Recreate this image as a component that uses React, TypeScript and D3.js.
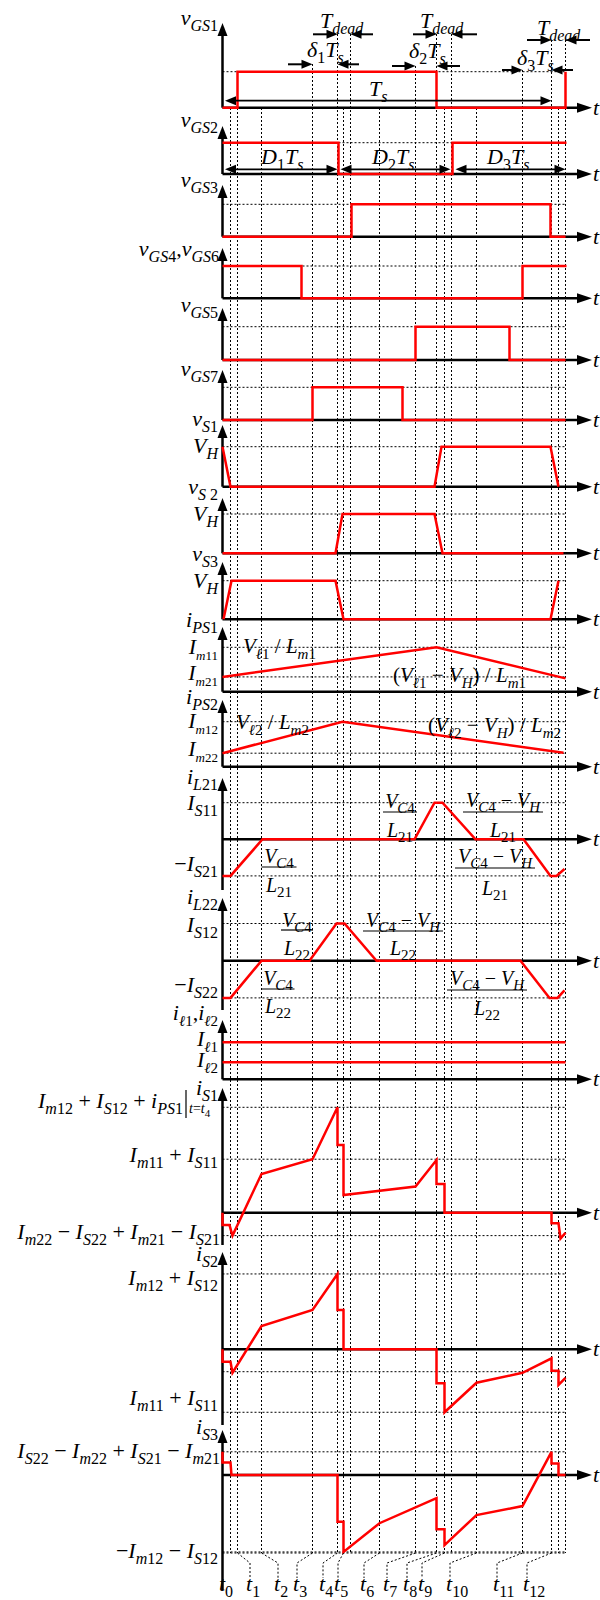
import React from 'react';
import * as d3 from 'd3';

// grid instants (time units along the switching period)
const gridTimes = [8, 15, 39, 90, 115, 121, 128, 157, 193, 214, 222, 229, 254, 300, 329, 336, 343];
const timeLabels = ['t_{1}', 't_{2}', 't_{3}', 't_{4}', 't_{5}', 't_{6}', 't_{7}', 't_{8}', 't_{9}', 't_{10}', 't_{11}', 't_{12}'];
const labelGrid = [15, 39, 90, 115, 121, 157, 193, 214, 222, 254, 300, 329];
const labelAt = [250, 278, 297, 323, 338, 364, 387, 407, 422, 450, 497, 527];

// gate signals (0 = low, 1 = high)
const vGS1 = [[0, 0], [15, 0], [15, 1], [214, 1], [214, 0], [343, 0], [343, 1]];
const vGS2 = [[0, 1], [116, 1], [116, 0], [230, 0], [230, 1], [344, 1]];
const vGS3 = [[0, 0], [129, 0], [129, 1], [328, 1], [328, 0], [343, 0]];
const vGS46 = [[0, 1], [79, 1], [79, 0], [300, 0], [300, 1], [344, 1]];
const vGS5 = [[0, 0], [193, 0], [193, 1], [287, 1], [287, 0], [343, 0]];
const vGS7 = [[0, 0], [90, 0], [90, 1], [180, 1], [180, 0], [343, 0]];

// switch voltages (1 = V_H)
const vS1 = [[0, 1], [8, 0], [212, 0], [219, 1], [328, 1], [336, 0]];
const vS2 = [[0, 0], [113, 0], [120, 1], [212, 1], [220, 0], [341, 0]];
const vS3 = [[1, 0], [9, 1], [113, 1], [121, 0], [328, 0], [336, 1]];

// currents (arbitrary units)
const iPS1 = [[0, 1], [214, 3], [343, 0.9]];
const iPS2 = [[0, 0.9], [120, 3], [341, 0.93]];
const iL21 = [[0, -1], [8, -1], [40, 0], [192, 0], [212, 1], [220, 1], [253, 0], [301, 0], [328, -1], [334, -1], [342, -0.81]];
const iL22 = [[0, -1], [8, -1], [39, 0], [87, 0], [114, 1], [122, 1], [154, 0], [298, 0], [327, -1], [335, -1], [342, -0.8]];
const il1 = [[0, 1], [343, 1]];
const il2 = [[0, 0.46], [343, 0.46]];
const iS1 = [[0, 0], [0, -0.47], [7, -0.47], [10, -0.87], [39, 1.47], [90, 2.03], [115, 4], [115, 2.57], [121, 2.57], [121, 0.67],
  [193, 0.99], [214, 2.0], [214, 1.09], [222, 1.09], [222, 0], [329, 0], [329, -0.4], [336, -0.4], [338, -0.98], [343, -0.76]];
const iS2 = [[0, 0], [0, -0.47], [8, -0.47], [10, -0.89], [39, 0.88], [90, 1.49], [115, 2.86], [115, 1.49], [121, 1.49], [121, 0],
  [214, 0], [214, -1.29], [222, -1.29], [222, -2.39], [254, -1.27], [300, -0.89], [329, -0.34], [329, -0.81], [336, -0.81],
  [336, -1.35], [343, -1.08]];
const iS3 = [[0, 0.88], [0, 0.47], [8, 0.47], [9, 0], [115, 0], [115, -1.77], [121, -1.77], [121, -2.92], [157, -1.83],
  [214, -0.88], [214, -2.06], [222, -2.06], [222, -2.66], [254, -1.52], [300, -1.18], [329, 0.88], [329, 0.44], [336, 0.44],
  [336, 0], [343, 0]];

const FONT = '"Liberation Serif", "DejaVu Serif", "Times New Roman", serif';
const RED = '#ff0000';
const MAIN = 22;
const SUB = 16;

const xs = d3.scaleLinear().domain([0, 343]).range([222.5, 565.5]);

// panel layout: baseline y, px per unit, axis extent, reference levels
const panels = [
  { id: 'vGS1', base: 107.7, unit: 36, top: 23, bottom: 107.7, waves: [vGS1], refs: [1] },
  { id: 'vGS2', base: 174, unit: 31.3, top: 126, bottom: 174, waves: [vGS2], refs: [1] },
  { id: 'vGS3', base: 236.7, unit: 32.4, top: 185, bottom: 236.7, waves: [vGS3], refs: [1] },
  { id: 'vGS46', base: 298.3, unit: 32.3, top: 248, bottom: 298.3, waves: [vGS46], refs: [1] },
  { id: 'vGS5', base: 360, unit: 33.3, top: 308, bottom: 360, waves: [vGS5], refs: [1] },
  { id: 'vGS7', base: 420, unit: 32.7, top: 370, bottom: 420, waves: [vGS7], refs: [1] },
  { id: 'vS1', base: 486.7, unit: 40, top: 425, bottom: 486.7, waves: [vS1], refs: [1] },
  { id: 'vS2', base: 553.3, unit: 39.3, top: 498, bottom: 553.3, waves: [vS2], refs: [1] },
  { id: 'vS3', base: 619.3, unit: 38.6, top: 562, bottom: 619.3, waves: [vS3], refs: [1] },
  { id: 'iPS1', base: 691.7, unit: 14.8, top: 627, bottom: 691.7, waves: [iPS1], refs: [3, 1] },
  { id: 'iPS2', base: 766.7, unit: 15, top: 700, bottom: 766.7, waves: [iPS2], refs: [3, 0.9] },
  { id: 'iL21', base: 839.3, unit: 36.6, top: 778, bottom: 890, waves: [iL21], refs: [1, -1] },
  { id: 'iL22', base: 960.7, unit: 37.2, top: 898, bottom: 1010, waves: [iL22], refs: [1, -1] },
  { id: 'il', base: 1079.3, unit: 37, top: 1020, bottom: 1079.3, waves: [il1, il2], refs: [] },
  { id: 'iS1', base: 1212.7, unit: 26.35, top: 1088, bottom: 1245, waves: [iS1], refs: [4, 2.03, -0.87] },
  { id: 'iS2', base: 1349.3, unit: 26.35, top: 1252, bottom: 1425, waves: [iS2], refs: [2.86, -0.85, -2.39] },
  { id: 'iS3', base: 1475, unit: 26.35, top: 1430, bottom: 1590, waves: [iS3], refs: [0.88, -2.92] },
];

const gridTop: Record<number, number> = { 15: 72, 90: 64, 115: 34, 128: 34, 193: 66, 214: 34, 229: 34, 300: 70, 329: 40, 343: 40 };
const GRID_BOTTOM = 1553;

const UPRIGHT = /([0-9+−\/()=,|]+)/;

function MathText({ x, y, s, size = MAIN, sub = SUB, anchor = 'start' }: any) {
  const parts: { t: string; sub: boolean }[] = [];
  const re = /_\{([^}]*)\}/g;
  let last = 0;
  let m: RegExpExecArray | null;
  while ((m = re.exec(s))) {
    if (m.index > last) parts.push({ t: s.slice(last, m.index), sub: false });
    parts.push({ t: m[1], sub: true });
    last = re.lastIndex;
  }
  if (last < s.length) parts.push({ t: s.slice(last), sub: false });
  const spans: any[] = [];
  let cur = 0;
  parts.forEach((p, i) => {
    const target = p.sub ? size * 0.27 : 0;
    p.t.split(UPRIGHT).filter(Boolean).forEach((chunk, j) => {
      const dy = target - cur;
      cur = target;
      spans.push(
        <tspan key={i + '-' + j} dy={dy ? dy : undefined} fontSize={p.sub ? sub : size}
          fontStyle={/^[0-9+−\/()=,|\s]+$/.test(chunk) ? 'normal' : 'italic'}>{chunk}</tspan>
      );
    });
  });
  return (
    <text x={x} y={y} textAnchor={anchor} fontFamily={FONT} fill="#000" style={{ whiteSpace: 'pre' }}>{spans}</text>
  );
}

function Frac({ cx, num, den, yNum, yLine, yDen, w }: any) {
  return (
    <g>
      <MathText x={cx} y={yNum} s={num} anchor="middle" size={20} sub={15} />
      <line x1={cx - w / 2} x2={cx + w / 2} y1={yLine} y2={yLine} stroke="#000" strokeWidth={1.2} />
      <MathText x={cx} y={yDen} s={den} anchor="middle" size={20} sub={15} />
    </g>
  );
}

function Arrow({ x1, x2, y }: any) {
  const dir = x2 > x1 ? 1 : -1;
  return (
    <g>
      <line x1={x1} x2={x2 - dir * 8} y1={y} y2={y} stroke="#000" strokeWidth={2} />
      <path d={`M${x2},${y}L${x2 - dir * 11},${y - 4.5}L${x2 - dir * 11},${y + 4.5}Z`} fill="#000" />
    </g>
  );
}

function DoubleArrow({ x1, x2, y }: any) {
  return (
    <g>
      <line x1={x1 + 8} x2={x2 - 8} y1={y} y2={y} stroke="#000" strokeWidth={1.8} />
      <path d={`M${x1},${y}L${x1 + 11},${y - 4.5}L${x1 + 11},${y + 4.5}Z`} fill="#000" />
      <path d={`M${x2},${y}L${x2 - 11},${y - 4.5}L${x2 - 11},${y + 4.5}Z`} fill="#000" />
    </g>
  );
}

export default function App() {
  const x0 = xs(0);
  const xEnd = xs(343);
  return (
    <svg width={600} height={1600} style={{ position: 'absolute', left: 0, top: 0, background: '#fff' }}>
      {/* vertical grid lines */}
      {gridTimes.map((t) => (
        <line key={'g' + t} x1={xs(t)} x2={xs(t)} y1={gridTop[t] ?? 108} y2={GRID_BOTTOM}
          stroke="#000" strokeWidth={1} strokeDasharray="2,2" />
      ))}
      <line x1={x0} x2={xEnd} y1={GRID_BOTTOM} y2={GRID_BOTTOM} stroke="#000" strokeWidth={1} strokeDasharray="2,2" />

      {panels.map((p) => {
        const ys = d3.scaleLinear().domain([0, 1]).range([p.base, p.base - p.unit]);
        const line = d3.line<number[]>().x((d) => xs(d[0])).y((d) => ys(d[1]));
        return (
          <g key={p.id}>
            {p.refs.map((r) => (
              <line key={r} x1={x0} x2={xEnd} y1={ys(r)} y2={ys(r)} stroke="#000" strokeWidth={1} strokeDasharray="2,2" />
            ))}
            <line x1={x0} x2={x0} y1={p.bottom} y2={p.top + 10} stroke="#000" strokeWidth={2.5} />
            <path d={`M${x0},${p.top}L${x0 - 5},${p.top + 13}L${x0 + 5},${p.top + 13}Z`} fill="#000" />
            <line x1={x0} x2={580} y1={p.base} y2={p.base} stroke="#000" strokeWidth={2.5} />
            <path d={`M592,${p.base}L577,${p.base - 5}L577,${p.base + 5}Z`} fill="#000" />
            <MathText x={593} y={p.base + 7} s="t" />
            {p.waves.map((w, i) => (
              <path key={i} d={line(w as any) || ''} fill="none" stroke={RED} strokeWidth={2.5} strokeLinejoin="miter" />
            ))}
          </g>
        );
      })}

      {/* top annotations */}
      <MathText x={320} y={28} s="T_{dead}" />
      <MathText x={420} y={28} s="T_{dead}" />
      <MathText x={537} y={35} s="T_{dead}" />
      <Arrow x1={313} x2={xs(115)} y={34.3} />
      <Arrow x1={373} x2={xs(128)} y={34.3} />
      <Arrow x1={413} x2={xs(214)} y={34.3} />
      <Arrow x1={477} x2={xs(229)} y={34.3} />
      <Arrow x1={527} x2={xs(329)} y={40} />
      <Arrow x1={590} x2={xs(343)} y={40} />
      <MathText x={307} y={57} s="δ_{1}T_{s}" />
      <MathText x={409} y={58} s="δ_{2}T_{s}" />
      <MathText x={517} y={65} s="δ_{3}T_{s}" />
      <Arrow x1={288} x2={xs(90)} y={64.3} />
      <Arrow x1={359} x2={xs(115)} y={64.3} />
      <Arrow x1={392} x2={xs(193)} y={66} />
      <Arrow x1={460} x2={xs(214)} y={66} />
      <Arrow x1={502} x2={xs(300)} y={70} />
      <Arrow x1={573} x2={xs(329)} y={70} />
      <DoubleArrow x1={225} x2={xs(329)} y={100.7} />
      <MathText x={369} y={96} s="T_{s}" />
      <DoubleArrow x1={225} x2={xs(115)} y={169.3} />
      <DoubleArrow x1={xs(118)} x2={xs(228)} y={169.3} />
      <DoubleArrow x1={xs(233)} x2={xs(343)} y={169.3} />
      <MathText x={261} y={164} s="D_{1}T_{s}" />
      <MathText x={372} y={164} s="D_{2}T_{s}" />
      <MathText x={487} y={164} s="D_{3}T_{s}" />

      {/* y-axis labels */}
      <MathText x={218} y={25} s="v_{GS1}" anchor="end" />
      <MathText x={218} y={127} s="v_{GS2}" anchor="end" />
      <MathText x={218} y={187} s="v_{GS3}" anchor="end" />
      <MathText x={219} y={256} s="v_{GS4},v_{GS6}" anchor="end" />
      <MathText x={218} y={312} s="v_{GS5}" anchor="end" />
      <MathText x={218} y={376} s="v_{GS7}" anchor="end" />
      <MathText x={218} y={426} s="v_{S1}" anchor="end" />
      <MathText x={218} y={453} s="V_{H}" anchor="end" />
      <MathText x={218} y={494} s="v_{S 2}" anchor="end" />
      <MathText x={218} y={521} s="V_{H}" anchor="end" />
      <MathText x={218} y={561} s="v_{S3}" anchor="end" />
      <MathText x={218} y={588} s="V_{H}" anchor="end" />
      <MathText x={218} y={627} s="i_{PS1}" anchor="end" />
      <MathText x={218} y={654} s="I_{m11}" sub={13} anchor="end" />
      <MathText x={218} y={680} s="I_{m21}" sub={13} anchor="end" />
      <MathText x={218} y={704} s="i_{PS2}" anchor="end" />
      <MathText x={218} y={728} s="I_{m12}" sub={13} anchor="end" />
      <MathText x={218} y={756} s="I_{m22}" sub={13} anchor="end" />
      <MathText x={218} y={784} s="i_{L21}" anchor="end" />
      <MathText x={218} y={810} s="I_{S11}" anchor="end" />
      <MathText x={218} y={871} s="−I_{S21}" anchor="end" />
      <MathText x={218} y={904} s="i_{L22}" anchor="end" />
      <MathText x={218} y={932} s="I_{S12}" anchor="end" />
      <MathText x={218} y={992} s="−I_{S22}" anchor="end" />
      <MathText x={218} y={1020} s="i_{ℓ1},i_{ℓ2}" sub={15} anchor="end" />
      <MathText x={218} y={1046} s="I_{ℓ1}" sub={15} anchor="end" />
      <MathText x={218} y={1067} s="I_{ℓ2}" sub={15} anchor="end" />
      <MathText x={218} y={1095} s="i_{S1}" anchor="end" />
      <MathText x={183} y={1108} s="I_{m12} + I_{S12} + i_{PS1}" anchor="end" />
      <line x1={186} x2={186} y1={1090} y2={1118} stroke="#000" strokeWidth={1.2} />
      <MathText x={189} y={1113} s="t=t_{4}" size={14} sub={11} />
      <MathText x={218} y={1162} s="I_{m11} + I_{S11}" anchor="end" />
      <MathText x={220} y={1239} s="I_{m22} − I_{S22} + I_{m21} − I_{S21}" anchor="end" />
      <MathText x={218} y={1261} s="i_{S2}" anchor="end" />
      <MathText x={218} y={1285} s="I_{m12} + I_{S12}" anchor="end" />
      <MathText x={218} y={1405} s="I_{m11} + I_{S11}" anchor="end" />
      <MathText x={218} y={1434} s="i_{S3}" anchor="end" />
      <MathText x={220} y={1458} s="I_{S22} − I_{m22} + I_{S21} − I_{m21}" anchor="end" />
      <MathText x={218} y={1558} s="−I_{m12} − I_{S12}" anchor="end" />

      {/* slopes */}
      <MathText x={243} y={653} s="V_{ℓ1} / L_{m1}" size={21} sub={15} />
      <MathText x={393} y={682} s="(V_{ℓ1} − V_{H}) / L_{m1}" size={21} sub={15} />
      <MathText x={236} y={729} s="V_{ℓ2} / L_{m2}" size={21} sub={15} />
      <MathText x={428} y={732} s="(V_{ℓ2} − V_{H}) / L_{m2}" size={21} sub={15} />
      <Frac cx={279} num="V_{C4}" den="L_{21}" yNum={863} yLine={867} yDen={892} w={35} />
      <Frac cx={400} num="V_{C4}" den="L_{21}" yNum={808} yLine={812} yDen={837} w={34} />
      <Frac cx={503} num="V_{C4} − V_{H}" den="L_{21}" yNum={807} yLine={812} yDen={837} w={80} />
      <Frac cx={495} num="V_{C4} − V_{H}" den="L_{21}" yNum={863} yLine={868} yDen={895} w={80} />
      <Frac cx={297} num="V_{C4}" den="L_{22}" yNum={927} yLine={930} yDen={955} w={32} />
      <Frac cx={403} num="V_{C4} − V_{H}" den="L_{22}" yNum={927} yLine={931} yDen={955} w={80} />
      <Frac cx={278} num="V_{C4}" den="L_{22}" yNum={985} yLine={989} yDen={1013} w={33} />
      <Frac cx={487} num="V_{C4} − V_{H}" den="L_{22}" yNum={985} yLine={990} yDen={1015} w={80} />

      {/* time instants */}
      <MathText x={226} y={1591} s="t_{0}" anchor="middle" />
      {labelGrid.map((g, i) => (
        <g key={'tl' + i}>
          <path d={`M${xs(g)},${GRID_BOTTOM}L${labelAt[i]},${GRID_BOTTOM + 10}L${labelAt[i]},1578`}
            fill="none" stroke="#000" strokeWidth={1} strokeDasharray="2,2" />
          <MathText x={labelAt[i] - 4} y={1591} s={timeLabels[i]} />
        </g>
      ))}
    </svg>
  );
}
